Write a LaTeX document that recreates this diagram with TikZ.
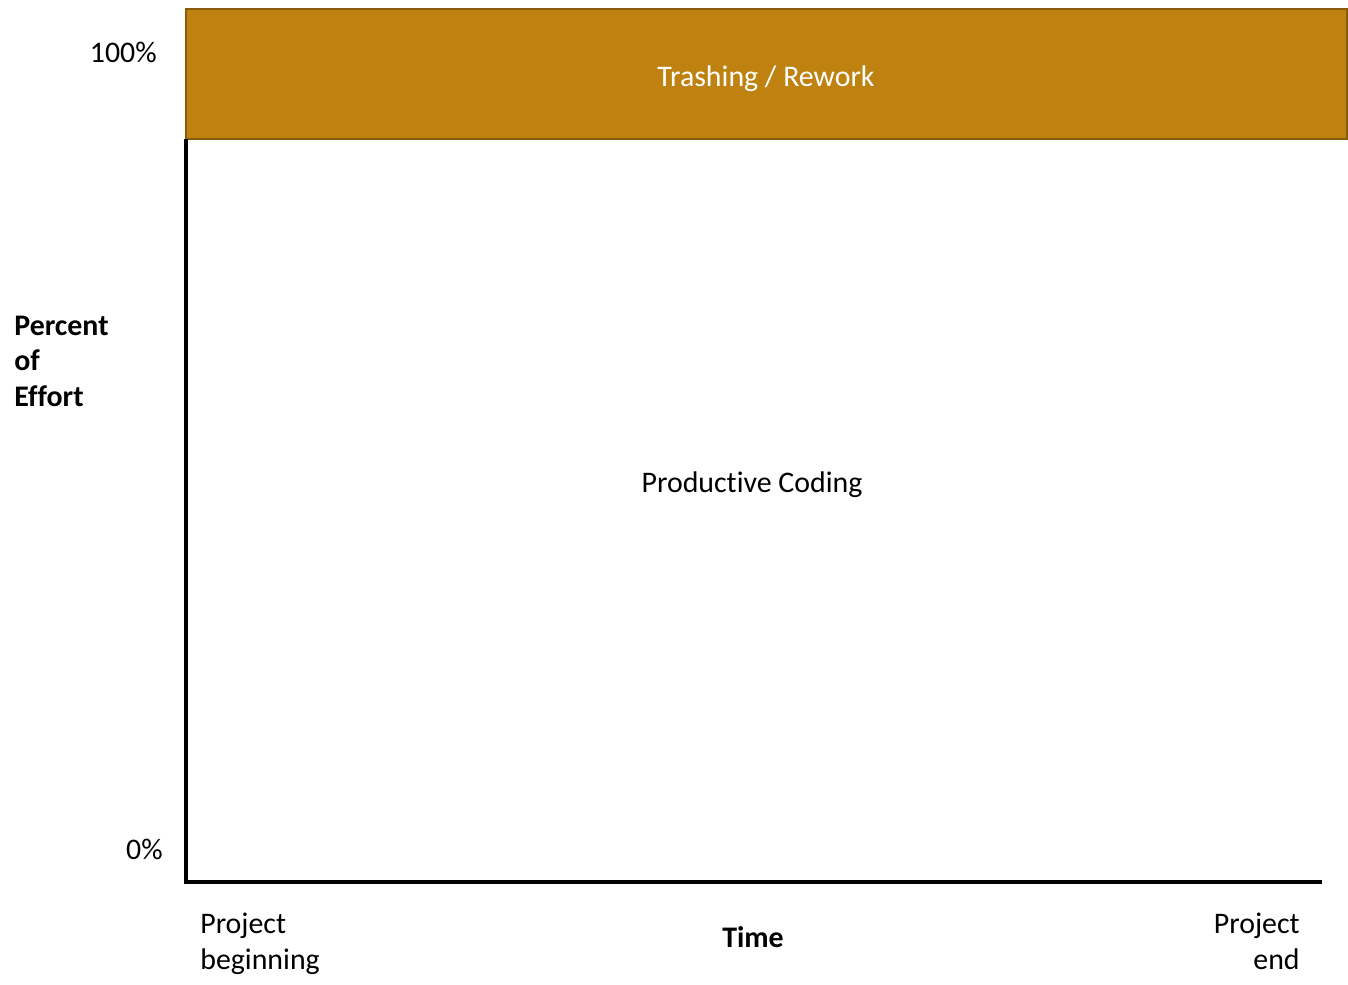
\documentclass[tikz,border=0pt]{standalone}
\usepackage{fontspec}
\setmainfont{Carlito}[Ligatures=NoCommon]
\usetikzlibrary{positioning}
\definecolor{rework}{RGB}{191,130,17}
\definecolor{reworkedge}{RGB}{135,92,12}

\tikzset{
    lbl/.style={font=\fontsize{17}{20}\selectfont, inner sep=0pt},
    boldlbl/.style={font=\fontsize{17}{20}\selectfont\bfseries, inner sep=0pt},
    axis/.style={line width=2.1pt}
}

\begin{document}
\begin{tikzpicture}[x=0.02cm, y=-0.02cm]
            \useasboundingbox (0, 0) rectangle (1348, 984);

            % band on top
            \filldraw[fill=rework, draw=reworkedge, line width=1.3pt] (186, 9) rectangle (1347, 139);
            \node[lbl, text=white, anchor=base] (rework) at (766, 86) {Trashing / Rework};

            % axes
            \coordinate (top) at (186, 139);
            \coordinate (origin) at (186, 882);
            \coordinate (right) at (1322, 882);
            \draw[axis] (top) -- (origin) -- (right);

            \node[lbl, anchor=base east] (full) at (157, 62) {100\%};
            \node[lbl, anchor=base east] (zero) at (163, 859) {0\%};
            \node[boldlbl, anchor=base west, align=left] (effort) at (14, 406) {Percent\\of\\Effort};

            \node[lbl, anchor=base] (coding) at (752, 492) {Productive Coding};

            \node[lbl, anchor=base west, align=left] (begin) at (200, 969) {Project\\beginning};
            \node[boldlbl, anchor=base] (time) at (753, 947) {Time};
            \node[lbl, anchor=base east, align=right] (end) at (1300, 969) {Project\\end};
\end{tikzpicture}
\end{document}
